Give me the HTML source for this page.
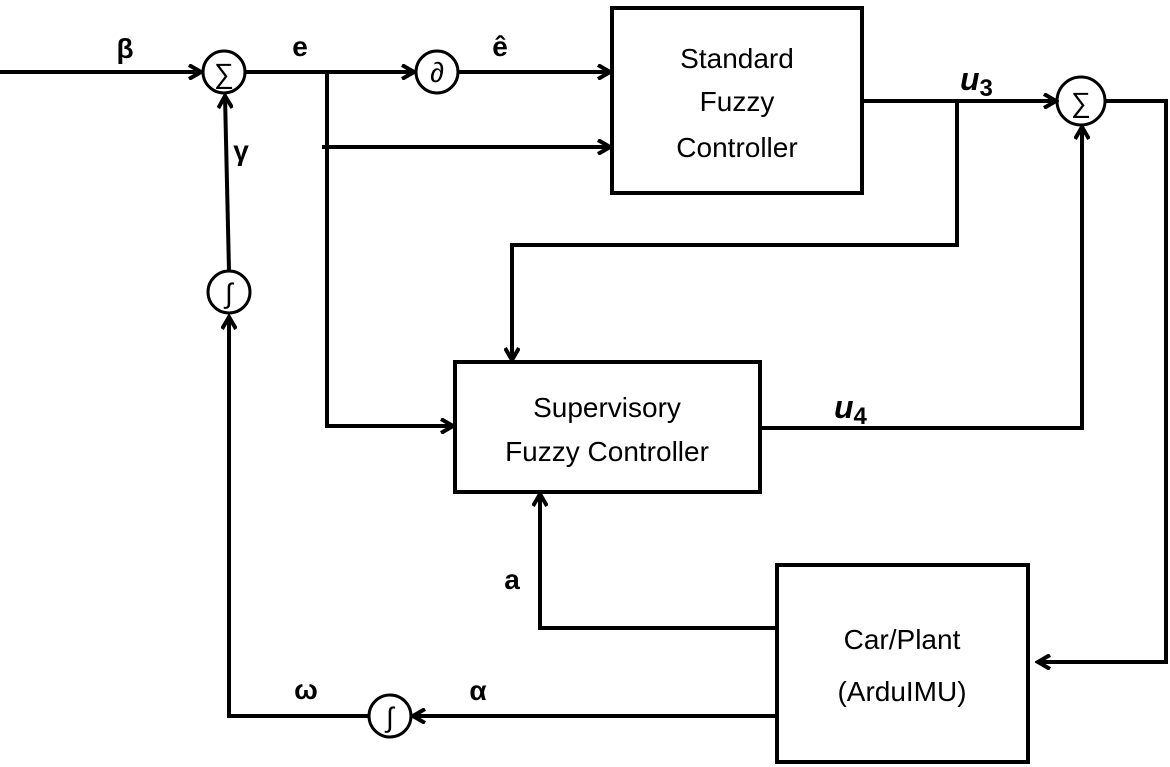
<!DOCTYPE html>
<html><head><style>body{margin:0;background:#fff}svg{display:block}text{font-family:"Liberation Sans",sans-serif;fill:#000}</style></head><body>
<svg width="1170" height="767" viewBox="0 0 1170 767">
<defs><marker id="a" markerWidth="16" markerHeight="16" refX="13" refY="8" orient="auto" markerUnits="userSpaceOnUse"><path d="M1,1 L13,8 L1,15" fill="none" stroke="#000" stroke-width="4"/></marker></defs>
<g stroke="#000" stroke-width="4" fill="none">
<line x1="0" y1="72" x2="201" y2="72" marker-end="url(#a)"/>
<circle cx="224" cy="72" r="21" stroke-width="3"/>
<line x1="245" y1="72" x2="414" y2="72" marker-end="url(#a)"/>
<circle cx="437" cy="72" r="21" stroke-width="3"/>
<line x1="458" y1="72" x2="610" y2="72" marker-end="url(#a)"/>
<line x1="327" y1="70" x2="327" y2="428"/>
<line x1="322" y1="147" x2="610" y2="147" marker-end="url(#a)"/>
<line x1="325" y1="426" x2="453" y2="426" marker-end="url(#a)"/>
<rect x="612" y="8" width="250" height="185"/>
<rect x="455" y="362" width="305" height="130"/>
<rect x="777" y="565" width="251" height="197"/>
<line x1="862" y1="101" x2="1056" y2="101" marker-end="url(#a)"/>
<circle cx="1081" cy="101" r="24" stroke-width="3"/>
<polyline points="957,101 957,245 512,245 512,360" marker-end="url(#a)"/>
<polyline points="760,428 1082,428 1082,127" marker-end="url(#a)"/>
<polyline points="1105,101 1166,101 1166,662 1038,662" marker-end="url(#a)"/>
<polyline points="777,628 540,628 540,494" marker-end="url(#a)"/>
<line x1="777" y1="716" x2="413" y2="716" marker-end="url(#a)"/>
<circle cx="390" cy="716" r="21" stroke-width="3"/>
<polyline points="369,716 229,716 229,317" marker-end="url(#a)"/>
<circle cx="229" cy="292" r="21" stroke-width="3"/>
<line x1="229" y1="271" x2="225" y2="96" marker-end="url(#a)"/>
</g>
<g font-family="DejaVu Sans,sans-serif" font-size="28" text-anchor="middle">
<text x="224" y="83">∑</text>
<text x="437" y="82">∂</text>
<text x="1081" y="112">∑</text>
<text x="229" y="303">∫</text>
<text x="390" y="727">∫</text>
</g>
<g font-size="28" text-anchor="middle">
<text x="737" y="68">Standard</text>
<text x="737" y="111">Fuzzy</text>
<text x="737" y="157">Controller</text>
<text x="607" y="417">Supervisory</text>
<text x="607" y="461">Fuzzy Controller</text>
<text x="902" y="649">Car/Plant</text>
<text x="902" y="701">(ArduIMU)</text>
</g>
<g font-size="28" font-weight="bold" text-anchor="middle">
<text x="125" y="58">β</text>
<text x="300" y="56">e</text>
<text x="500" y="56">ê</text>
<text x="241" y="160">γ</text>
<text x="512" y="589">a</text>
<text x="306" y="699">ω</text>
<text x="478" y="700">α</text>
</g>
<g font-family="Liberation Serif,serif" font-weight="bold" font-style="italic" font-size="32">
<text x="960" y="90">u<tspan font-size="24" font-style="normal" dy="6">3</tspan></text>
<text x="834" y="418">u<tspan font-size="24" font-style="normal" dy="6">4</tspan></text>
</g>
</svg>
</body></html>
